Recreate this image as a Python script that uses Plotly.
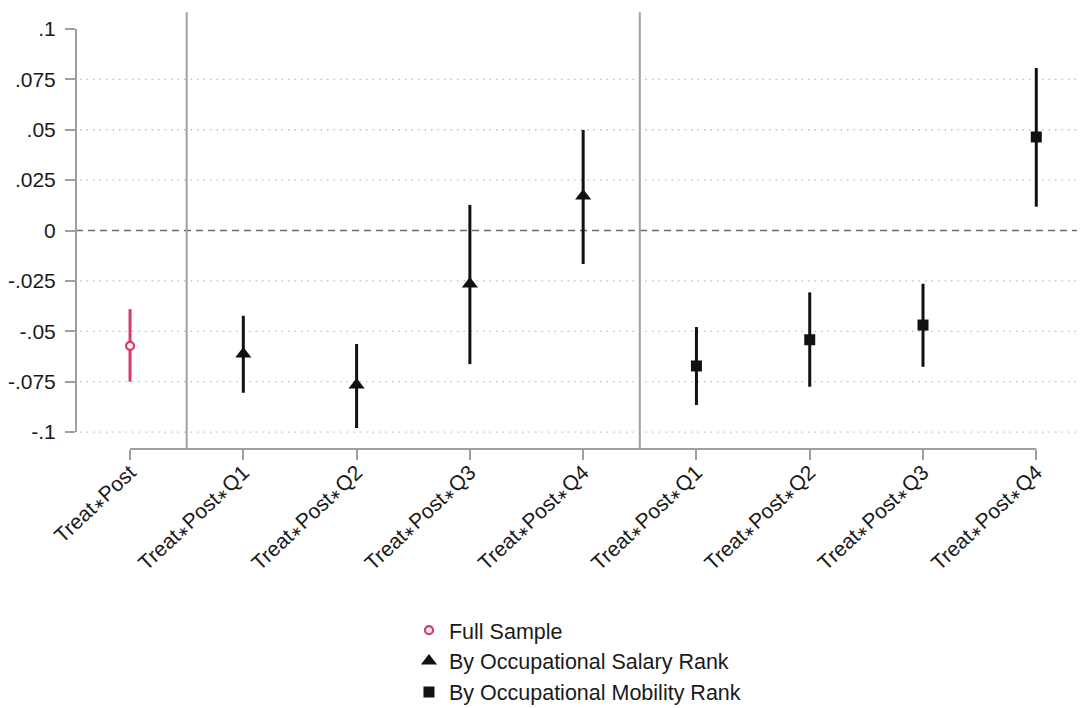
import plotly.graph_objects as go

AST = '<span style="font-size:14px">∗</span>'
labels = ["Treat∗Post", "Treat∗Post∗Q1", "Treat∗Post∗Q2", "Treat∗Post∗Q3", "Treat∗Post∗Q4",
          "Treat∗Post∗Q1", "Treat∗Post∗Q2", "Treat∗Post∗Q3", "Treat∗Post∗Q4"]
positions = [1, 2, 3, 4, 5, 6, 7, 8, 9]

full_pos = [1]
full_coef = [-0.0572]
full_lo = [-0.0750]
full_hi = [-0.0390]

sal_pos = [2, 3, 4, 5]
sal_coef = [-0.0613, -0.0767, -0.0266, 0.0171]
sal_lo = [-0.0805, -0.0980, -0.0663, -0.0166]
sal_hi = [-0.0423, -0.0563, 0.0127, 0.0499]

mob_pos = [6, 7, 8, 9]
mob_coef = [-0.0672, -0.0542, -0.0469, 0.0464]
mob_lo = [-0.0866, -0.0775, -0.0676, 0.0118]
mob_hi = [-0.0479, -0.0307, -0.0264, 0.0806]

ytick_vals = [0.1, 0.075, 0.05, 0.025, 0, -0.025, -0.05, -0.075, -0.1]
ytick_text = [".1", ".075", ".05", ".025", "0", "-.025", "-.05", "-.075", "-.1"]
grid_vals = [0.075, 0.05, 0.025, -0.025, -0.05, -0.075, -0.1]
separators = [1.5, 5.5]

RED = "#d43d68"
BLK = "#111111"
GRAY = "#a0a0a0"
FONT = "Liberation Sans, Arial, sans-serif"


def err(coef, lo, hi, color):
    return dict(type="data", symmetric=False,
                array=[h - c for c, h in zip(coef, hi)],
                arrayminus=[c - l for c, l in zip(coef, lo)],
                width=0, thickness=3, color=color)


fig = go.Figure()
fig.add_trace(go.Scatter(x=full_pos, y=full_coef, mode="markers", name="Full Sample",
                         marker=dict(symbol="circle", size=8, color="#fbe9ee", line=dict(width=2.2, color=RED)),
                         error_y=err(full_coef, full_lo, full_hi, RED)))
fig.add_trace(go.Scatter(x=sal_pos, y=sal_coef, mode="markers", name="By Occupational Salary Rank",
                         marker=dict(symbol="triangle-up", size=14, color=BLK),
                         error_y=err(sal_coef, sal_lo, sal_hi, BLK)))
fig.add_trace(go.Scatter(x=mob_pos, y=mob_coef, mode="markers", name="By Occupational Mobility Rank",
                         marker=dict(symbol="square", size=11, color=BLK),
                         error_y=err(mob_coef, mob_lo, mob_hi, BLK)))

shapes = []
for g in grid_vals:
    shapes.append(dict(type="line", xref="paper", yref="y", x0=0.004, x1=1, y0=g, y1=g,
                       line=dict(color="#bdbdbd", width=1.3, dash="1.5px,5px"), layer="below"))
shapes.append(dict(type="line", xref="paper", yref="y", x0=0, x1=1, y0=0, y1=0,
                   line=dict(color="#6a6a6a", width=1.5, dash="7px,5px"), layer="below"))
for s in separators:
    shapes.append(dict(type="line", xref="x", yref="paper", x0=s, x1=s, y0=0, y1=0.995,
                       line=dict(color=GRAY, width=2), layer="below"))
# axis lines
shapes.append(dict(type="line", xref="paper", yref="y", x0=0, x1=0, y0=min(ytick_vals), y1=max(ytick_vals),
                   line=dict(color=GRAY, width=2)))
shapes.append(dict(type="line", xref="x", yref="paper", x0=min(positions), x1=max(positions), y0=0, y1=0,
                   line=dict(color=GRAY, width=2)))

fig.update_layout(
    width=1077, height=700,
    margin=dict(l=68, r=0, t=2, b=259, autoexpand=False),
    paper_bgcolor="white", plot_bgcolor="white",
    font=dict(family=FONT, size=21, color="#1a1a1a"),
    shapes=shapes,
    showlegend=True,
    legend=dict(x=0.330, xanchor="left", y=-0.366, yanchor="top",
                font=dict(size=21.5, color="#1a1a1a"), bgcolor="rgba(0,0,0,0)",
                tracegroupgap=0, itemsizing="trace"),
    xaxis=dict(range=[0.523, 9.43], tickvals=positions,
               ticktext=[l.replace("∗", AST) for l in labels], tickangle=-43,
               showgrid=False, zeroline=False, showline=False, automargin=False,
               ticks="outside", ticklen=10, tickwidth=2, tickcolor=GRAY,
               ticklabelstandoff=-8,
               tickfont=dict(size=21, color="#1a1a1a")),
    yaxis=dict(range=[-0.1084, 0.1094], tickvals=ytick_vals, ticktext=ytick_text,
               showgrid=False, zeroline=False, showline=False, automargin=False,
               ticks="outside", ticklen=10, tickwidth=2, tickcolor=GRAY,
               ticklabelstandoff=5,
               tickfont=dict(size=21, color="#1a1a1a")),
)

fig.write_html("out.html")
